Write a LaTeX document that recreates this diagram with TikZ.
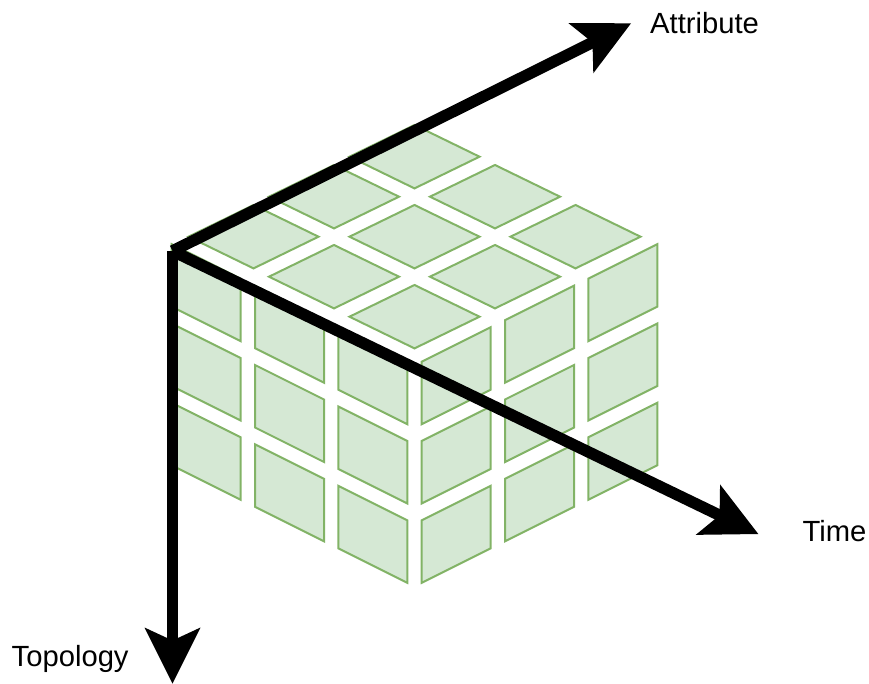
\documentclass[tikz,border=0pt]{standalone}
\usepackage{fontspec}
\setmainfont{Liberation Sans}
\usetikzlibrary{calc}
\definecolor{cellfill}{HTML}{D5E8D4}
\definecolor{celldraw}{HTML}{82B366}
\tikzset{
  cell/.style={fill=cellfill, draw=celldraw, line width=2pt, line join=miter},
  axisline/.style={draw=black, line width=11.5pt, line cap=butt},
  axishead/.style={fill=black},
  axislabel/.style={font=\fontsize{29.2}{34}\selectfont, inner sep=0pt, anchor=base west}
}
\begin{document}
\begin{tikzpicture}[x=1pt,y=-1pt]
\useasboundingbox (0,0) rectangle (869,684);
% top face
\foreach \i in {0,1,2}{
  \foreach \j in {0,1,2}{
    \pgfmathsetmacro{\cx}{414.5+80.5*(\i-\j)}
    \pgfmathsetmacro{\cy}{316.7-40*(\i+\j)}
    \draw[cell] (\cx-65,\cy) -- (\cx,\cy-31.7) -- (\cx+65,\cy) -- (\cx,\cy+31.7) -- cycle;
  }
}
% right face
\foreach \k in {0,1,2}{
  \foreach \r in {0,1,2}{
    \pgfmathsetmacro{\ax}{421.7+83.3*\k}
    \pgfmathsetmacro{\ay}{361.7-41.5*\k+79.3*\r}
    \draw[cell] (\ax,\ay) -- (\ax+69,\ay-34.5) -- (\ax+69,\ay+28) -- (\ax,\ay+62.5) -- cycle;
  }
}
% left face
\foreach \k in {0,1,2}{
  \foreach \r in {0,1,2}{
    \pgfmathsetmacro{\bx}{407.3-83.3*\k}
    \pgfmathsetmacro{\by}{361.7-41.5*\k+79.3*\r}
    \draw[cell] (\bx,\by) -- (\bx-69,\by-34.5) -- (\bx-69,\by+28) -- (\bx,\by+62.5) -- cycle;
  }
}
% axes
\coordinate (O) at (172.5,251);
\coordinate (aT) at (631,23.3);
\coordinate (tT) at (758.3,534);
\coordinate (vT) at (172.5,683.5);
\foreach \t in {aT,tT,vT}{
  \coordinate (\t M) at ($(\t)!56pt!(O)$);
  \coordinate (\t N) at ($(\t)!43pt!(O)$);
  \coordinate (\t S) at ($(\t)!41pt!(O)$);
  \coordinate (\t W1) at ($(\t M)!28pt!90:(\t)$);
  \coordinate (\t W2) at ($(\t M)!28pt!-90:(\t)$);
  \draw[axisline] (O) -- (\t S);
  \fill[axishead] (\t) -- (\t W1) -- (\t N) -- (\t W2) -- cycle;
}
% labels
\node[axislabel] (lA) at (650,33.3) {Attribute};
\node[axislabel] (lT) at (802.3,541) {Time};
\node[axislabel] (lP) at (11.5,666) {Topology};
\end{tikzpicture}
\end{document}
